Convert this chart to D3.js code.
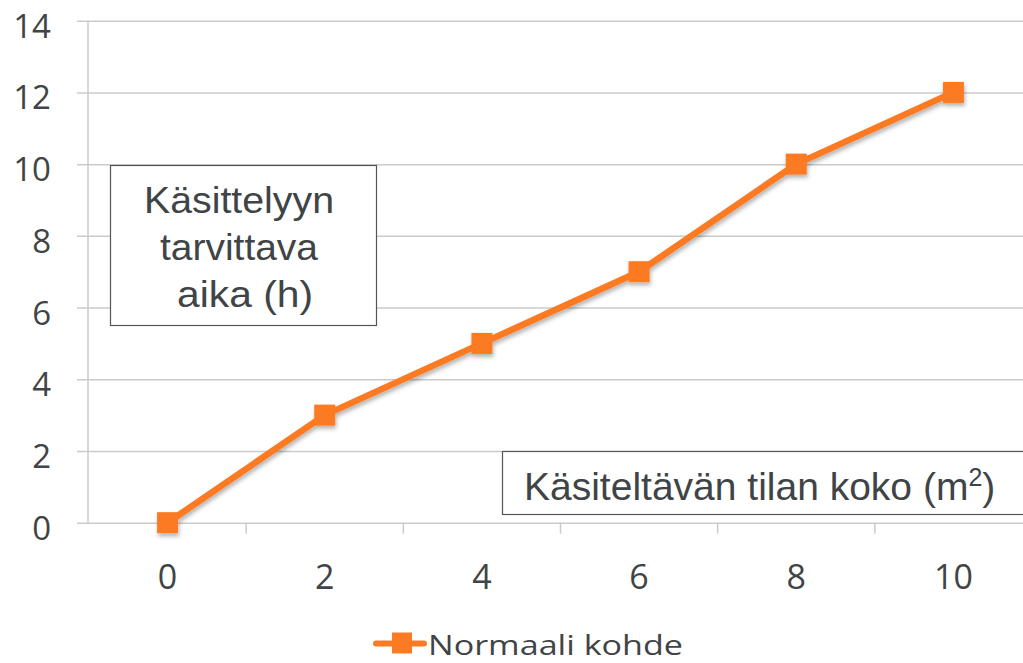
<!DOCTYPE html>
<html>
<head>
<meta charset="utf-8">
<script src="https://cdn.jsdelivr.net/npm/d3@7"></script>
<style>
  body { margin: 0; background: #fff; }
  svg { display: block; }
</style>
</head>
<body>
<svg id="chart" width="1023" height="663"></svg>
<script>
// chart data
var categories = ["0", "2", "4", "6", "8", "10"]
  , values = [0, 3, 5, 7, 10, 12]
  , yTicks = [0, 2, 4, 6, 8, 10, 12, 14]
  , seriesName = "Normaali kohde"
  , yTitleLines = ["Käsittelyyn", "tarvittava", "aika (h)"]
;

var svg = d3.select("#chart")
  , plotLeft = 89
  , plotRight = 1032
  , plotTop = 20.7
  , plotBottom = 522.7
  , orange = "#fb7a24"
  , gridColor = "#cbcbcb"
  , textColor = "#3f4446"
;

var x = d3.scaleBand().domain(categories).range([plotLeft, plotRight])
  , y = d3.scaleLinear().domain([0, 14]).range([plotBottom, plotTop])
;

var defs = svg.append("defs");
var shadow = defs.append("filter").attr("id", "shadow")
    .attr("x", "-30%").attr("y", "-30%").attr("width", "160%").attr("height", "160%");
shadow.append("feDropShadow")
    .attr("dx", 1).attr("dy", 3).attr("stdDeviation", 2)
    .attr("flood-color", "#000").attr("flood-opacity", 0.3);

// gridlines + y labels
var yAxis = d3.axisLeft(y).tickValues(yTicks).tickSize(-(plotRight - plotLeft) - 12).tickPadding(0);
var gy = svg.append("g").attr("transform", "translate(" + (plotLeft - 12) + ",0)")
    .call(yAxis);
gy.select(".domain").remove();
gy.selectAll(".tick line")
    .attr("stroke", gridColor).attr("stroke-width", 1.5);
gy.selectAll(".tick text")
    .attr("fill", textColor)
    .style("font-family", "'Open Sans', sans-serif")
    .style("font-size", "33px")
    .attr("x", -26)
    .attr("dy", "0.5em");

// y axis line
svg.append("line")
    .attr("x1", plotLeft - 1).attr("x2", plotLeft - 1)
    .attr("y1", plotTop).attr("y2", plotBottom)
    .attr("stroke", gridColor).attr("stroke-width", 1.5);

// x axis: labels + ticks between categories
var xAxis = d3.axisBottom(x).tickSize(0).tickPadding(0);
var gx = svg.append("g").attr("transform", "translate(0," + plotBottom + ")").call(xAxis);
gx.select(".domain").remove();
gx.selectAll(".tick text")
    .attr("fill", textColor)
    .style("font-family", "'Open Sans', sans-serif")
    .style("font-size", "34px")
    .attr("y", 66)
    .attr("dy", 0);
svg.append("g").selectAll("line")
    .data(categories.slice(1))
    .join("line")
    .attr("x1", function(d) { return x(d); })
    .attr("x2", function(d) { return x(d); })
    .attr("y1", plotBottom).attr("y2", plotBottom + 11)
    .attr("stroke", gridColor).attr("stroke-width", 1.5);

// text boxes
function textBox(bx, by, bw, bh) {
  svg.append("rect")
      .attr("x", bx).attr("y", by).attr("width", bw).attr("height", bh)
      .attr("fill", "#fff").attr("stroke", "#555").attr("stroke-width", 1.2);
}
textBox(110.5, 165.5, 266, 160);
var lineWidths = [190, 158, 136];
svg.append("g")
    .attr("fill", textColor)
    .style("font-family", "'Liberation Sans', Arial, sans-serif")
    .style("font-size", "36px")
  .selectAll("text")
    .data(yTitleLines)
    .join("text")
    .attr("x", function(d, i) { return 239 - lineWidths[i] / 2 + (i === 2 ? 6 : 0); })
    .attr("y", function(d, i) { return 213 + i * 47; })
    .attr("textLength", function(d, i) { return lineWidths[i]; })
    .attr("lengthAdjust", "spacingAndGlyphs")
    .text(function(d) { return d; });

textBox(502.5, 451.5, 540, 63);
var xt = svg.append("text")
    .attr("x", 524).attr("y", 500).attr("fill", textColor)
    .style("font-family", "'Liberation Sans', Arial, sans-serif")
    .style("font-size", "39px");
xt.append("tspan").text("Käsiteltävän tilan koko (m");
xt.append("tspan").attr("dy", -14).style("font-size", "25px").text("2");
xt.append("tspan").attr("dy", 14).text(")");

// series
var pts = categories.map(function(c, i) { return [x(c) + x.bandwidth() / 2, y(values[i])]; });
var series = svg.append("g").attr("filter", "url(#shadow)");
series.append("path")
    .attr("d", d3.line()(pts))
    .attr("fill", "none")
    .attr("stroke", orange)
    .attr("stroke-width", 6.5)
    .attr("stroke-linejoin", "round");
series.selectAll("rect")
    .data(pts)
    .join("rect")
    .attr("x", function(d) { return d[0] - 10.5; })
    .attr("y", function(d) { return d[1] - 10.5; })
    .attr("width", 21).attr("height", 21)
    .attr("fill", orange);

// legend
var lg = svg.append("g").attr("transform", "translate(376,643.5)");
lg.append("line").attr("x1", 0).attr("x2", 48).attr("y1", 0).attr("y2", 0)
    .attr("stroke", orange).attr("stroke-width", 6).attr("stroke-linecap", "round");
lg.append("rect").attr("x", 16).attr("y", -11).attr("width", 20).attr("height", 21).attr("fill", orange);
lg.append("text").attr("x", 52).attr("y", 11)
    .attr("fill", textColor)
    .style("font-family", "'Open Sans', sans-serif")
    .style("font-size", "28px")
    .attr("textLength", 255)
    .attr("lengthAdjust", "spacingAndGlyphs")
    .text(seriesName);
</script>
</body>
</html>
